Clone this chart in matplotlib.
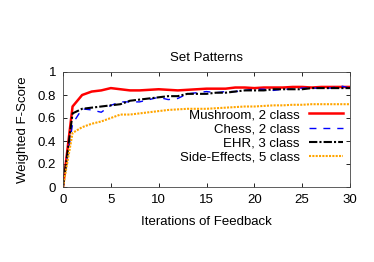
# Set Patterns - weighted F-score vs feedback iterations
import matplotlib
matplotlib.use("Agg")
import matplotlib.pyplot as plt

plt.rcParams['font.family'] = ['Liberation Sans', 'DejaVu Sans']

iterations = list(range(31))
mushroom = [0, 0.70, 0.80, 0.83, 0.84, 0.86, 0.85, 0.84, 0.84, 0.845, 0.85,
            0.845, 0.84, 0.845, 0.85, 0.855, 0.855, 0.855, 0.865, 0.865, 0.86,
            0.865, 0.865, 0.865, 0.87, 0.87, 0.865, 0.87, 0.87, 0.87, 0.87]
chess = [0, 0.55, 0.68, 0.67, 0.65, 0.71, 0.74, 0.74, 0.74, 0.76, 0.78,
         0.76, 0.77, 0.81, 0.82, 0.83, 0.82, 0.83, 0.83, 0.84, 0.85,
         0.85, 0.84, 0.85, 0.85, 0.86, 0.86, 0.86, 0.86, 0.88, 0.86]
ehr = [0, 0.64, 0.68, 0.69, 0.70, 0.71, 0.72, 0.75, 0.76, 0.77, 0.78,
       0.79, 0.79, 0.81, 0.81, 0.81, 0.82, 0.82, 0.83, 0.84, 0.84,
       0.84, 0.85, 0.85, 0.85, 0.85, 0.86, 0.86, 0.86, 0.86, 0.86]
side_effects = [0, 0.47, 0.52, 0.55, 0.57, 0.60, 0.63, 0.63, 0.64, 0.65, 0.66,
                0.67, 0.675, 0.68, 0.68, 0.68, 0.685, 0.69, 0.695, 0.70, 0.70,
                0.705, 0.71, 0.71, 0.715, 0.715, 0.72, 0.72, 0.72, 0.72, 0.72]

fig = plt.figure(figsize=(3.74, 2.62), dpi=100)
ax = fig.add_axes([63/374, 1 - 187/262, 287/374, 115/262])

ax.plot(iterations, mushroom, color='#ff0000', lw=1.8, label='Mushroom, 2 class')
ax.plot(iterations, chess, color='#0000ff', lw=1.0, dashes=(5, 5), label='Chess, 2 class')
ax.plot(iterations, ehr, color='black', lw=1.5, dashes=(4, 1, 1, 1), label='EHR, 3 class')
ax.plot(iterations, side_effects, color='#ffa500', lw=1.5, dashes=(1, 0.6), label='Side-Effects, 5 class')

ax.set_xlim(0, 30)
ax.set_ylim(0, 1)
ax.set_xticks(range(0, 31, 5))
ax.set_yticks([0, 0.2, 0.4, 0.6, 0.8, 1])
ax.set_yticklabels(['0', '0.2', '0.4', '0.6', '0.8', '1'])
ax.tick_params(direction='in', top=True, right=True, labelsize=9.5, length=3, width=0.6, pad=5)
for s in ax.spines.values():
    s.set_linewidth(0.6)
    s.set_color('#444444')

ax.set_title('Set Patterns', fontsize=9.5, pad=8)
ax.set_xlabel('Iterations of Feedback', fontsize=9.5, labelpad=7)
ax.set_ylabel('Weighted F-Score', fontsize=9.5, labelpad=6)

ax.legend(loc='upper right', bbox_to_anchor=(0.976, 0.68), frameon=False, fontsize=9.5,
          markerfirst=False, handlelength=2.6, labelspacing=0.15, handletextpad=0.7,
          borderaxespad=0, borderpad=0)

fig.savefig('out.png', dpi=100)
